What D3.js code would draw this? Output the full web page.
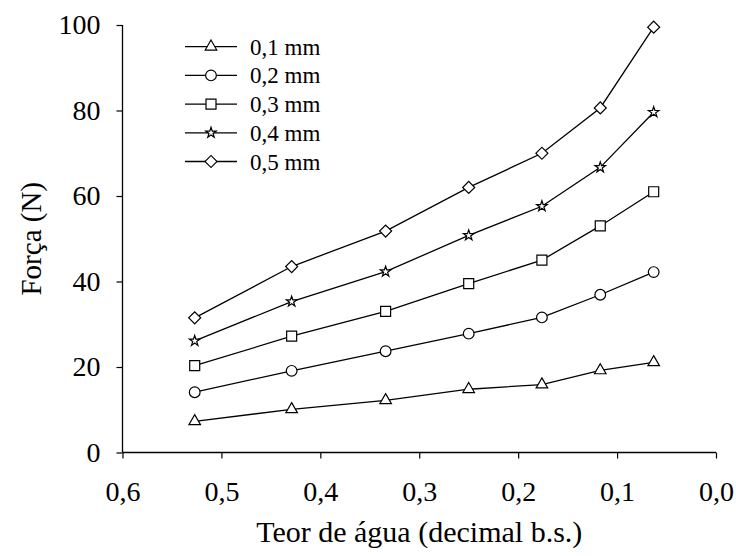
<!DOCTYPE html>
<html>
<head>
<meta charset="utf-8">
<script src="https://cdn.jsdelivr.net/npm/d3@7"></script>
<style>
  body { margin: 0; background: #fff; }
  text { font-family: "Liberation Serif", "Times New Roman", serif; fill: #000; }
</style>
</head>
<body>
<svg id="chart"></svg>
<script>
const width = 736, height = 556

// teor de agua (decimal b.s.)
const teor = [0.527, 0.429, 0.334, 0.250, 0.176, 0.117, 0.063]
const series_names = ["0,1 mm", "0,2 mm", "0,3 mm", "0,4 mm", "0,5 mm"]
const forca_01 = [7.3, 10.1, 12.2, 14.8, 15.9, 19.2, 21.1]
const forca_02 = [14.1, 19.1, 23.7, 27.8, 31.6, 36.9, 42.2]
const forca_03 = [20.3, 27.2, 33.0, 39.5, 45.0, 53.0, 61.0]
const forca_04 = [26.1, 35.3, 42.3, 50.8, 57.6, 66.7, 79.6]
const forca_05 = [31.5, 43.5, 51.8, 62.0, 70.0, 80.6, 99.5]
const x_ticks = [0.6, 0.5, 0.4, 0.3, 0.2, 0.1, 0.0]
const y_ticks = [0, 20, 40, 60, 80, 100]

const all_series = [forca_01, forca_02, forca_03, forca_04, forca_05]

// marker shapes, one per series
const markers = [
    { type: d3.symbolTriangle, size: 58, rot: 0 },
    { type: d3.symbolCircle, size: 90, rot: 0 },
    { type: d3.symbolSquare, size: 100, rot: 0 },
    { type: d3.symbolStar, size: 34, rot: 0 },
    { type: d3.symbolSquare, size: 72, rot: 45 }
]

const svg = d3.select("#chart")
    .attr("width", width)
    .attr("height", height)

const x = d3.scaleLinear().domain([0.6, 0]).range([122.5, 716])
const y = d3.scaleLinear().domain([0, 100]).range([452.5, 25])

const fmt = d => d3.format(".1f")(d).replace(".", ",")

// axes
let xAxis = svg.append("g")
    .attr("transform", `translate(0,${y(0)})`)
    .call(d3.axisBottom(x).tickValues(x_ticks).tickFormat(fmt).tickSize(6))
xAxis.selectAll("text")
    .attr("font-size", "28px")
    .attr("y", 48)
    .attr("dy", 0)

let yAxis = svg.append("g")
    .attr("transform", `translate(${x(0.6)},0)`)
    .call(d3.axisLeft(y).tickValues(y_ticks).tickSize(6).tickPadding(16))
yAxis.selectAll("text").attr("font-size", "28px")

// drop the outer tick stubs of the domain paths
xAxis.select(".domain").attr("d", `M${x(0.6)},0H${x(0)}`).attr("stroke-width", 1.3)
yAxis.select(".domain").attr("d", `M0,${y(0)}V${y(100)}`).attr("stroke-width", 1.3)
svg.selectAll(".tick line").attr("stroke-width", 1.2)

// axis titles
svg.append("text")
    .attr("x", (x(0.6) + x(0)) / 2)
    .attr("y", 542)
    .attr("text-anchor", "middle")
    .attr("font-size", "30px")
    .text("Teor de água (decimal b.s.)")

svg.append("text")
    .attr("transform", `translate(41,${(y(0) + y(100)) / 2}) rotate(-90)`)
    .attr("text-anchor", "middle")
    .attr("font-size", "29px")
    .text("Força (N)")

// lines + markers
let line = d3.line().x((d, i) => x(teor[i])).y(d => y(d))

all_series.forEach((vals, k) => {
    let g = svg.append("g")
    g.append("path")
        .attr("d", line(vals))
        .attr("fill", "none")
        .attr("stroke", "#000")
        .attr("stroke-width", 1.3)
    let m = markers[k]
    g.selectAll("path.mk")
        .data(vals)
        .enter()
        .append("path")
        .attr("class", "mk")
        .attr("d", d3.symbol().type(m.type).size(m.size))
        .attr("transform", (d, i) => `translate(${x(teor[i])},${y(d)}) rotate(${m.rot})`)
        .attr("fill", "#fff")
        .attr("stroke", "#000")
        .attr("stroke-width", 1.2)
})

// legend
let legend = svg.append("g")
series_names.forEach((name, k) => {
    let ly = 46.7 + k * 28.7
    legend.append("line")
        .attr("x1", 185).attr("x2", 237)
        .attr("y1", ly).attr("y2", ly)
        .attr("stroke", "#000")
        .attr("stroke-width", 1.3)
    let m = markers[k]
    legend.append("path")
        .attr("d", d3.symbol().type(m.type).size(m.size))
        .attr("transform", `translate(211,${ly}) rotate(${m.rot})`)
        .attr("fill", "#fff")
        .attr("stroke", "#000")
        .attr("stroke-width", 1.2)
    legend.append("text")
        .attr("x", 250)
        .attr("y", ly)
        .attr("dy", "0.35em")
        .attr("font-size", "23px")
        .text(name)
})
</script>
</body>
</html>
